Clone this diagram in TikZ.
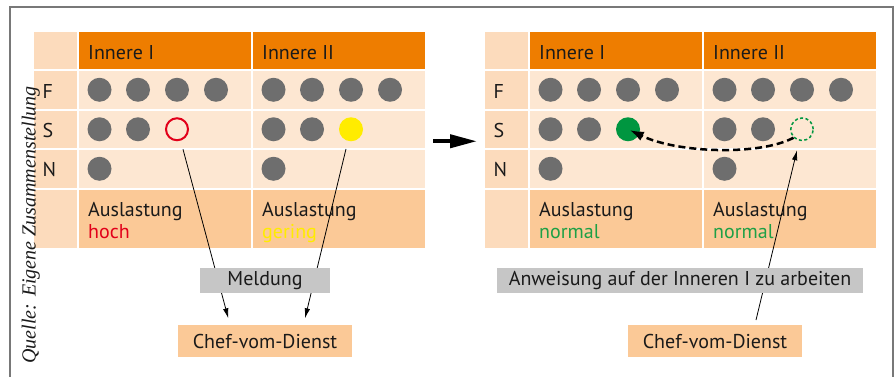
\documentclass[tikz,border=0pt]{standalone}
\usepackage{fontspec}
\setmainfont{PT Sans}
\newfontfamily\quellefont{Liberation Serif}
\usetikzlibrary{arrows.meta, calc}

\definecolor{hdorange}{RGB}{238,125,0}
\definecolor{labpeach}{RGB}{252,219,188}
\definecolor{cellpeach}{RGB}{253,231,210}
\definecolor{auspeach}{RGB}{251,201,151}
\definecolor{boxgray}{RGB}{198,198,198}
\definecolor{dotgray}{RGB}{110,110,110}
\definecolor{framegray}{RGB}{120,120,120}
\definecolor{txtblack}{RGB}{26,26,26}
\definecolor{hochred}{RGB}{226,0,26}
\definecolor{geringyellow}{RGB}{255,236,0}
\definecolor{normalgreen}{RGB}{30,160,70}
\definecolor{dotgreen}{RGB}{0,150,64}

\begin{document}
\begin{tikzpicture}[x=1pt, y=-1pt, font=\fontsize{20}{21.6}\selectfont, text=txtblack,
    cell/.style={rectangle, inner sep=0pt, outer sep=0pt, anchor=north west, minimum width=172pt},
    labcell/.style={cell, fill=labpeach, minimum width=43pt},
    hdcell/.style={cell, fill=hdorange},
    datcell/.style={cell, fill=cellpeach},
    auscell/.style={cell, fill=auspeach},
    txt/.style={inner sep=0pt, anchor=base west},
    dot/.style={circle, inner sep=0pt, minimum size=24pt, fill=dotgray},
    msgbox/.style={fill=boxgray, minimum height=25pt, inner sep=0pt},
    chefbox/.style={fill=auspeach, minimum width=174pt, minimum height=32pt, inner sep=0pt},
    thinarr/.style={line width=0.8pt, -{Latex[length=10pt,width=5.5pt]}}
  ]
  \useasboundingbox (0,0) rectangle (896,376);
  % frame, open at the bottom
  \draw[framegray, line width=2pt] (10,380) -- (10,7) -- (892.5,7) -- (892.5,380);

  % the two tables (before / after)
  \foreach \p/\dx/\wa/\ca/\wb/\cb in {L/0/hoch/hochred/gering/geringyellow, R/451/normal/normalgreen/normal/normalgreen}{
    \foreach \r/\y/\h/\st in {H/32/37/hdcell, F/71/37.5/datcell, S/110.5/37.5/datcell, N/150/37.5/datcell, A/189.5/58.5/auscell}{
      \node[labcell, minimum height=\h pt] (\p\r0) at (34+\dx,\y) {};
      \node[\st, minimum height=\h pt] (\p\r1) at (79+\dx,\y) {};
      \node[\st, minimum height=\h pt] (\p\r2) at (253+\dx,\y) {};
    }
    \node[txt] at (88+\dx,59.5) {Innere I};
    \node[txt] at (262+\dx,59.5) {Innere II};
    \node[txt] at (42.5+\dx,98) {F};
    \node[txt] at (42.5+\dx,137) {S};
    \node[txt] at (42.5+\dx,176.5) {N};
    \node[txt, align=left] at (88+\dx,238.3) {Auslastung\\\textcolor{\ca}{\wa}};
    \node[txt, align=left] at (262+\dx,238.3) {Auslastung\\\textcolor{\cb}{\wb}};
    % staff dots
    \foreach \c/\cx in {1/79, 2/253}{
      \foreach \k/\ox in {1/20.5, 2/59, 3/98, 4/137}
        \node[dot] (\p F\c\k) at (\cx+\ox+\dx,89.75) {};
      \foreach \k/\ox in {1/20.5, 2/59}
        \node[dot] (\p S\c\k) at (\cx+\ox+\dx,129.25) {};
      \node[dot] (\p N\c1) at (\cx+20.5+\dx,168.75) {};
    }
  }
  % the dots that change
  \node[dot, fill=none, draw=hochred, line width=2pt, minimum size=22pt] (LS13) at (177,129.25) {};
  \node[dot, fill=geringyellow] (LS23) at (351,129.25) {};
  \node[dot, fill=dotgreen] (RS13) at (628,129.25) {};
  \node[dot, fill=none, draw=dotgreen, line width=1.5pt, dash pattern=on 3pt off 2.5pt, minimum size=22.5pt] (RS23) at (802,129.25) {};

  % arrow between the two states
  \draw[line width=4pt, -{Triangle[length=27pt,width=13pt]}, shorten <=8pt, shorten >=8pt]
    ([yshift=-12pt]LS2.east) -- ([yshift=-12pt]RS0.west);
  % move from Innere II to Innere I
  \draw[line width=2.5pt, dash pattern=on 7pt off 4pt, -{Latex[length=14pt,width=10pt]}, shorten >=2pt]
    (RS23.south west) .. controls +(-34,18) and +(50,24) .. (RS13.center);

  % Chef-vom-Dienst boxes
  \node[chefbox] (chefL) at (265,341) {Chef-vom-Dienst};
  \node[chefbox] (chefR) at (715,341) {Chef-vom-Dienst};

  % reports and order
  \draw[thinarr] ([xshift=6pt,yshift=-8pt]LS13.south) -- ([xshift=-36.7pt,yshift=6.5pt]chefL.north);
  \draw[thinarr] ([xshift=-5pt,yshift=-7.5pt]LS23.south) -- ([xshift=40pt,yshift=6.5pt]chefL.north);
  \draw[thinarr] ([xshift=41pt,yshift=4.8pt]chefR.north) -- ([xshift=-5pt,yshift=-9pt]RS23.south);

  \node[msgbox, minimum width=130pt] (meldung) at (265,280.5) {Meldung};
  \node[msgbox, minimum width=366pt] (anweisung) at (680,280.5) {Anweisung auf der Inneren I zu arbeiten};

  % source note
  \node[rotate=90, anchor=base, inner sep=0pt, font=\quellefont\itshape\fontsize{20}{22}\selectfont] (quelle)
    at (35.5,225) {Quelle: Eigene Zusammenstellung};
\end{tikzpicture}
\end{document}
